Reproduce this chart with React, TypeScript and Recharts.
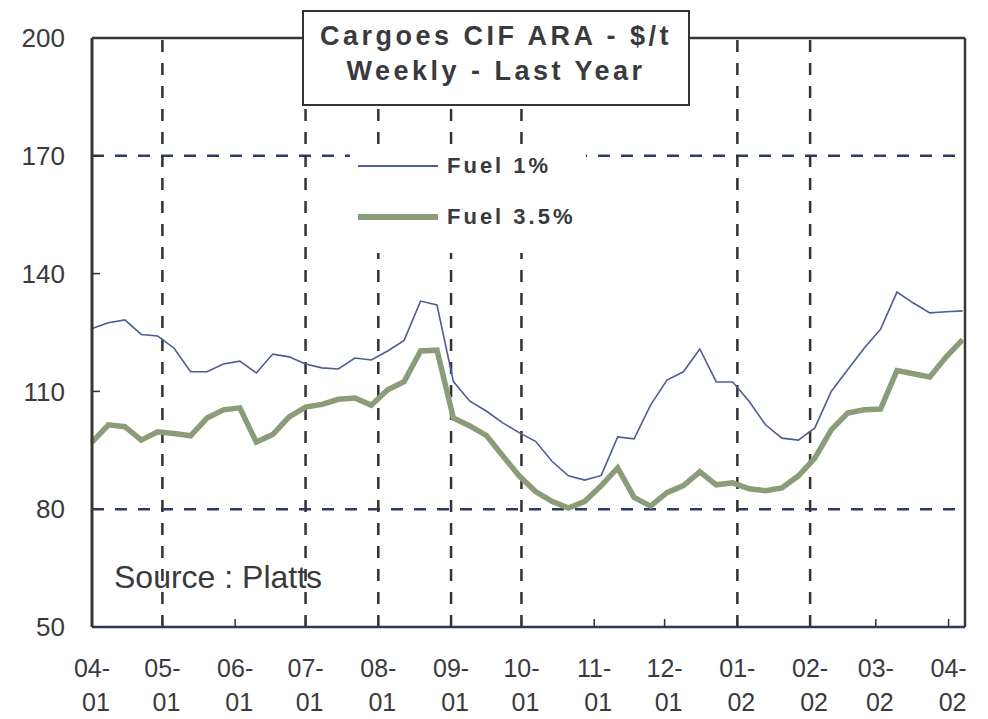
import { LineChart, Line, XAxis, YAxis, ReferenceLine, Legend } from 'recharts'

// weekly observations, day offset from 04-01 (2001)
const weekDays = [
  0, 7, 14, 21, 28, 35, 42, 49, 56, 63, 70, 77, 84, 91, 98, 105, 112, 119, 126, 133, 140, 147, 154, 161, 168, 175, 182,
  189, 196, 203, 210, 217, 224, 231, 238, 245, 252, 259, 266, 273, 280, 287, 294, 301, 308, 315, 322, 329, 336, 343,
  350, 357, 364, 371,
]

const fuel1 = [
  126, 127.5, 128.2, 124.5, 124.1, 121, 115, 115, 117, 117.7,
  114.7, 119.5, 118.8, 117, 116, 115.7, 118.5, 118, 120.3, 123,
  133, 132, 112.5, 107.5, 105, 102, 99.5, 97.3, 92.2, 88.5,
  87.4, 88.6, 98.4, 97.9, 106.5, 112.9, 115, 120.8, 112.4, 112.4,
  107.5, 101.5, 98.1, 97.6, 100.7, 110, 115.5, 121, 125.8, 135.3,
  132.5, 130, 130.3, 130.5,
]

const fuel35 = [
  97.1, 101.5, 101, 97.6, 99.7, 99.3, 98.7, 103.2, 105.3, 105.8,
  97.1, 99, 103.5, 106, 106.7, 108, 108.3, 106.5, 110.4, 112.5,
  120.3, 120.5, 103.2, 101.2, 98.8, 93.6, 88.5, 84.5, 82, 80.3,
  82, 86, 90.5, 83, 80.8, 84.2, 86, 89.5, 86.2, 86.7,
  85.2, 84.7, 85.4, 88.5, 93, 100.2, 104.5, 105.3, 105.5, 115.3,
  114.5, 113.7, 118.8, 123.2,
]

const monthDays = [0, 30, 61, 91, 122, 153, 183, 214, 244, 275, 306, 334, 365]
const monthLabels = ['04-', '05-', '06-', '07-', '08-', '09-', '10-', '11-', '12-', '01-', '02-', '03-', '04-']
const yearLabels = ['01', '01', '01', '01', '01', '01', '01', '01', '01', '02', '02', '02', '02']
const gridDays = [30, 91, 122, 153, 183, 275, 306]
const gridValues = [170, 80]
const yTicks = [50, 80, 110, 140, 170, 200]

const data = weekDays.map((day, i) => ({ day, fuel1: fuel1[i], fuel35: fuel35[i] }))

const FONT = '"Liberation Sans", Arial, sans-serif'
const TEXT = '#3a3a3e'

function MonthTick(props: any) {
  const { x, y, payload } = props
  const i = monthDays.indexOf(payload.value)
  return (
    <g fontFamily={FONT} fontSize={25} fill={TEXT}>
      <text x={x} y={y + 50} textAnchor="middle">{monthLabels[i]}</text>
      <text x={x + 4} y={y + 84} textAnchor="middle">{yearLabels[i]}</text>
    </g>
  )
}

const legendStyle: Record<string, { width: number; color: string }> = {
  fuel1: { width: 1.6, color: '#4f5d92' },
  fuel35: { width: 5.5, color: '#8a9c78' },
}

function LegendBox(props: any) {
  const items = props.payload || []
  return (
    <div style={{ position: 'relative', width: 236, height: 108, background: '#fff' }}>
      {items.map((entry: any, i: number) => {
        const st = legendStyle[entry.dataKey]
        const cy = 21 + i * 51
        return (
          <div key={entry.dataKey}>
            <div
              style={{
                position: 'absolute',
                left: 8,
                top: cy - st.width / 2,
                width: 80,
                height: st.width,
                background: st.color,
              }}
            />
            <div
              style={{
                position: 'absolute',
                left: 97,
                top: cy - 13,
                lineHeight: '26px',
                fontFamily: FONT,
                fontSize: 22,
                fontWeight: 700,
                letterSpacing: 3,
                color: TEXT,
                whiteSpace: 'nowrap',
              }}
            >
              {entry.value}
            </div>
          </div>
        )
      })}
    </div>
  )
}

export default function App() {
  return (
    <div style={{ position: 'absolute', left: 0, top: 0, width: 988, height: 719, background: '#fff' }}>
      <LineChart width={988} height={719} data={data} margin={{ top: 38, right: 23, bottom: 0, left: 0 }}>
        <XAxis
          dataKey="day"
          type="number"
          domain={[0, 372]}
          ticks={monthDays}
          interval={0}
          height={92}
          tickSize={-8}
          tickMargin={8}
          tick={<MonthTick />}
          axisLine={{ stroke: '#2d3560', strokeWidth: 2.5 }}
          tickLine={{ stroke: '#333', strokeWidth: 1.5 }}
        />
        <YAxis
          type="number"
          domain={[50, 200]}
          ticks={yTicks}
          interval={0}
          width={92}
          tickSize={-8}
          tickMargin={35}
          tick={{ fontFamily: FONT, fontSize: 26, fill: TEXT }}
          axisLine={{ stroke: '#3b3439', strokeWidth: 3 }}
          tickLine={{ stroke: '#333', strokeWidth: 1.5 }}
        />
        {gridValues.map((v) => (
          <ReferenceLine key={'h' + v} y={v} stroke="#2d3a66" strokeWidth={2.5} strokeDasharray="12 11" />
        ))}
        {gridDays.map((d) => (
          <ReferenceLine key={'v' + d} x={d} stroke="#353038" strokeWidth={2.5} strokeDasharray="12 11" />
        ))}
        <ReferenceLine y={200} stroke="#3b3439" strokeWidth={2.5} />
        <ReferenceLine x={372} stroke="#3b3439" strokeWidth={2.5} />
        <Line
          dataKey="fuel1"
          name="Fuel 1%"
          stroke="#4f5d92"
          strokeWidth={1.6}
          dot={false}
          isAnimationActive={false}
        />
        <Line
          dataKey="fuel35"
          name="Fuel 3.5%"
          stroke="#8a9c78"
          strokeWidth={5.5}
          dot={false}
          isAnimationActive={false}
        />
        <Legend
          layout="vertical"
          align="center"
          verticalAlign="middle"
          wrapperStyle={{ left: 350, top: 145, width: 236, height: 108 }}
          content={<LegendBox />}
        />
      </LineChart>
      <div
        style={{
          position: 'absolute',
          left: 302,
          top: 10,
          width: 388,
          height: 96,
          boxSizing: 'border-box',
          border: '2px solid #333',
          background: '#fff',
          paddingTop: 7,
          textAlign: 'center',
          fontFamily: FONT,
          fontWeight: 700,
          fontSize: 27,
          letterSpacing: 3.5,
          lineHeight: '35px',
          color: TEXT,
        }}
      >
        <div>Cargoes CIF ARA - $/t</div>
        <div>Weekly - Last Year</div>
      </div>
      <div
        style={{
          position: 'absolute',
          left: 114,
          top: 561,
          fontFamily: FONT,
          fontSize: 32,
          lineHeight: '32px',
          color: TEXT,
          whiteSpace: 'nowrap',
        }}
      >
        Source : Platts
      </div>
    </div>
  )
}
